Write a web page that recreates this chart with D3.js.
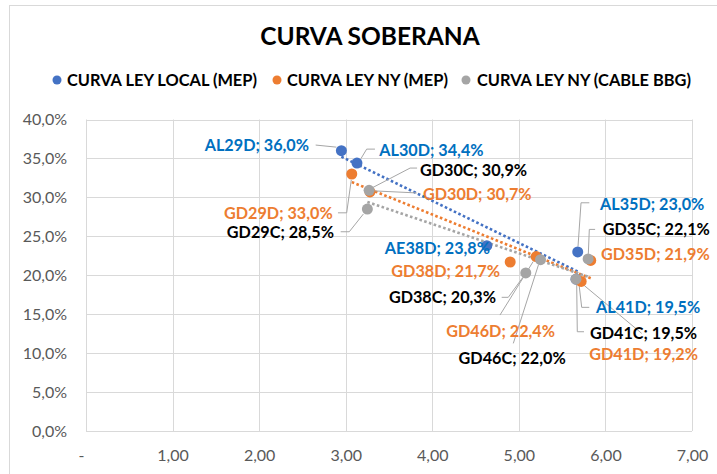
<!DOCTYPE html>
<html>
<head>
<meta charset="utf-8">
<script src="https://cdn.jsdelivr.net/npm/d3@7"></script>
<style>
  html, body { margin: 0; padding: 0; background: #fff; }
  svg { display: block; }
</style>
</head>
<body>
<svg id="chart" width="717" height="474"></svg>
<script>
// ---- DATA ----
const title = "CURVA SOBERANA";
const seriesNames = ["CURVA LEY LOCAL (MEP)", "CURVA LEY NY (MEP)", "CURVA LEY NY (CABLE BBG)"];

const localNames = ["AL29D", "AL30D", "AE38D", "AL35D", "AL41D"];
const localDur   = [2.95, 3.13, 4.63, 5.68, 5.66];
const localYield = [36.0, 34.4, 23.8, 23.0, 19.5];

const nyMepNames = ["GD29D", "GD30D", "GD38D", "GD46D", "GD35D", "GD41D"];
const nyMepDur   = [3.07, 3.28, 4.90, 5.20, 5.83, 5.72];
const nyMepYield = [33.0, 30.7, 21.7, 22.4, 21.9, 19.2];

const nyCableNames = ["GD29C", "GD30C", "GD38C", "GD46C", "GD35C", "GD41C"];
const nyCableDur   = [3.25, 3.27, 5.08, 5.25, 5.80, 5.66];
const nyCableYield = [28.5, 30.9, 20.3, 22.0, 22.1, 19.5];

const xTicks = [0, 1, 2, 3, 4, 5, 6, 7];
const yTicks = [0, 5, 10, 15, 20, 25, 30, 35, 40];

// ---- LAYOUT / STYLE ----
const colors = ["#4472C4", "#ED7D31", "#A5A5A5"];
const labelColors = ["#0070C0", "#ED7D31", "#000000"];

// label offsets (px) relative to each point; leader polyline offsets
const labelLayout = {
  AL29D: { a: "end",   dx: -32.4, dy: 0.3,  leader: [[-25.7, -5.6], [-5, -3.5]] },
  AL30D: { a: "start", dx: 22.3,  dy: -7.3, leader: [[4, -4.5], [9.7, -14], [18, -14]] },
  AE38D: { a: "end",   dx: 3.2,   dy: 8.4,  leader: null },
  AL35D: { a: "start", dx: 22.3,  dy: -41.8, leader: [[0.3, -5.5], [3.3, -49.1], [11.6, -49.1]] },
  AL41D: { a: "start", dx: 20,    dy: 33.6, leader: [[3, 5], [5.7, 28.2], [13.3, 28.2]] },
  GD29D: { a: "end",   dx: -19.1, dy: 45.4, leader: [[-13.8, 38.8], [-5.1, 38.8], [-0.5, 6]] },
  GD30D: { a: "start", dx: 53,    dy: 8.2,  leader: [[5, -1], [46.7, 1]] },
  GD38D: { a: "end",   dx: -10.2, dy: 14.7, leader: null },
  GD46D: { a: "end",   dx: 18.8,  dy: 80.2, leader: [[-36.2, 58.5], [-3, 5]] },
  GD35D: { a: "start", dx: 10.3,  dy: -0.4, leader: null },
  GD41D: { a: "start", dx: 8.1,   dy: 78.6, leader: [[3, 4], [60.5, 51.9]] },
  GD29C: { a: "end",   dx: -33.4, dy: 29.0, leader: [[-26.7, 22.7], [-18.1, 22.7], [-4, 5]] },
  GD30C: { a: "start", dx: 50.9,  dy: -14.3, leader: [[4, -3], [41, -22.3], [48, -22.3]] },
  GD38C: { a: "end",   dx: -29.8, dy: 30.4, leader: [[-24.1, 24.4], [-17.5, 24.4], [-3, 4.5]] },
  GD46C: { a: "end",   dx: 25.2,  dy: 104.4, leader: [[-27.2, 83.7], [-2, 5]] },
  GD35C: { a: "start", dx: 14.6,  dy: -23.8, leader: [[0.2, -5], [1.2, -29.5], [7, -29.5]] },
  GD41C: { a: "start", dx: 14,    dy: 60.2, leader: [[0.7, 5], [1.3, 52.6], [8, 52.6]] }
};

const series = [
  { name: seriesNames[0], names: localNames, dur: localDur, y: localYield },
  { name: seriesNames[1], names: nyMepNames, dur: nyMepDur, y: nyMepYield },
  { name: seriesNames[2], names: nyCableNames, dur: nyCableDur, y: nyCableYield }
];

const locale = d3.formatLocale({ decimal: ",", thousands: ".", grouping: [3], currency: ["$", ""] });
const fmt1 = locale.format(".1f");
const fmt2 = locale.format(".2f");

const svg = d3.select("#chart");
const FONT = "Lato, 'Open Sans', sans-serif";

// chart frame
svg.append("rect").attr("x", 9.5).attr("y", 5.5).attr("width", 720).attr("height", 480)
  .attr("fill", "#fff").attr("stroke", "#d9d9d9").attr("stroke-width", 1);

const x = d3.scaleLinear().domain([0, 7]).range([86, 692]);
const y = d3.scaleLinear().domain([0, 40]).range([431, 119.5]);

// gridlines
const grid = svg.append("g");
grid.selectAll("line.h").data(yTicks).join("line")
  .attr("x1", x(0)).attr("x2", x(7))
  .attr("y1", d => Math.round(y(d)) + 0.5).attr("y2", d => Math.round(y(d)) + 0.5)
  .attr("stroke", "#d9d9d9").attr("stroke-width", 1);
grid.selectAll("line.v").data(xTicks).join("line")
  .attr("y1", y(0)).attr("y2", y(40))
  .attr("x1", d => Math.round(x(d)) + 0.5).attr("x2", d => Math.round(x(d)) + 0.5)
  .attr("stroke", "#d9d9d9").attr("stroke-width", 1);

// axes (labels only)
const yAxis = d3.axisLeft(y).tickValues(yTicks).tickSize(0).tickPadding(19)
  .tickFormat(d => fmt1(d) + "%");
const gy = svg.append("g").attr("transform", `translate(${x(0)},0)`).call(yAxis);
gy.select(".domain").remove();
gy.selectAll("text").attr("font-family", FONT).attr("font-size", 16).attr("fill", "#595959");

const xAxis = d3.axisBottom(x).tickValues(xTicks).tickSize(0).tickPadding(19)
  .tickFormat(d => d === 0 ? "-" : fmt2(d));
const gx = svg.append("g").attr("transform", `translate(0,${y(0)})`).call(xAxis);
gx.select(".domain").remove();
gx.selectAll("text").attr("font-family", FONT).attr("font-size", 16).attr("fill", "#595959");
gx.selectAll(".tick").filter(d => d === 0).select("text").attr("dx", -5);

// title
svg.append("text").attr("x", 370).attr("y", 45).attr("text-anchor", "middle")
  .attr("font-family", FONT).attr("font-weight", "bold").attr("font-size", 24.5)
  .attr("fill", "#000").text(title);

// legend
const legendPos = [[57, 67], [277, 287], [466, 477]];
const lg = svg.append("g");
series.forEach((s, i) => {
  lg.append("circle").attr("cx", legendPos[i][0]).attr("cy", 80).attr("r", 4.5).attr("fill", colors[i]);
  lg.append("text").attr("x", legendPos[i][1]).attr("y", 86)
    .attr("font-family", FONT).attr("font-weight", "bold").attr("font-size", 16.4)
    .attr("fill", "#000").text(s.name);
});

// trendlines (linear regression across each series' x-range)
series.forEach((s, i) => {
  const n = s.dur.length;
  const mx = d3.mean(s.dur), my = d3.mean(s.y);
  let sxy = 0, sxx = 0;
  for (let k = 0; k < n; k++) { sxy += (s.dur[k] - mx) * (s.y[k] - my); sxx += (s.dur[k] - mx) ** 2; }
  const b = sxy / sxx, a = my - b * mx;
  const [x0, x1] = d3.extent(s.dur);
  svg.append("line")
    .attr("x1", x(x0)).attr("y1", y(a + b * x0))
    .attr("x2", x(x1)).attr("y2", y(a + b * x1))
    .attr("stroke", colors[i]).attr("stroke-width", 2.6)
    .attr("stroke-dasharray", "2.6 2.4");
});

// leader lines
const leaders = svg.append("g");
series.forEach((s, i) => {
  s.names.forEach((nm, k) => {
    const L = labelLayout[nm];
    if (!L.leader) return;
    const px = x(s.dur[k]), py = y(s.y[k]);
    leaders.append("polyline")
      .attr("points", L.leader.map(p => `${px + p[0]},${py + p[1]}`).join(" "))
      .attr("fill", "none").attr("stroke", "#a6a6a6").attr("stroke-width", 1);
  });
});

// markers
series.forEach((s, i) => {
  svg.append("g").selectAll("circle").data(s.dur.map((d, k) => ({ d, v: s.y[k] })))
    .join("circle")
    .attr("cx", p => x(p.d)).attr("cy", p => y(p.v)).attr("r", 5.5)
    .attr("fill", colors[i]);
});

// data labels
series.forEach((s, i) => {
  s.names.forEach((nm, k) => {
    const L = labelLayout[nm];
    const px = x(s.dur[k]), py = y(s.y[k]);
    svg.append("text")
      .attr("x", px + L.dx).attr("y", py + L.dy)
      .attr("text-anchor", L.a)
      .attr("font-family", FONT).attr("font-weight", "bold").attr("font-size", 16.2)
      .attr("fill", labelColors[i])
      .text(`${nm}; ${fmt1(s.y[k])}%`);
  });
});
</script>
</body>
</html>
